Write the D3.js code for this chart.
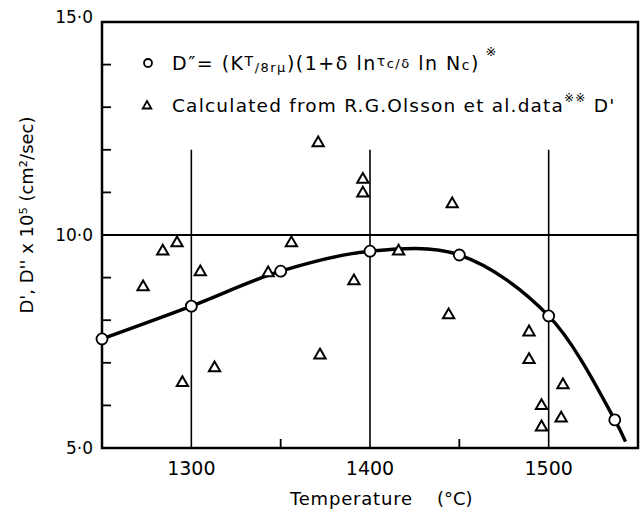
<!DOCTYPE html>
<html>
<head>
<meta charset="utf-8">
<script src="https://cdn.jsdelivr.net/npm/d3@7"></script>
<style>
  body { margin: 0; background: #fff; }
  text { font-family: "DejaVu Sans", sans-serif; fill: #000; }
</style>
</head>
<body>
<script>
var width = 643, height = 516;

// x ticks (temperature, C) and y ticks (D x 10^5)
const tempTicks = [1300, 1400, 1500];
const tempMinor = [1350, 1450];
const dTicks = [5, 10, 15];
const dTickLabels = ["5·0", "10·0", "15·0"];
const dMinor = [6, 7, 8, 9, 11, 12, 13, 14];

// D'' calculated (circles)
const circT = [1250, 1300, 1350, 1400, 1450, 1500, 1537];
const circD = [7.56, 8.33, 9.15, 9.62, 9.53, 8.10, 5.66];
// smooth curve through them, running on to the lower end
const curveT = [1250, 1300, 1350, 1400, 1450, 1500, 1537, 1543];
const curveD = [7.56, 8.33, 9.15, 9.62, 9.53, 8.10, 5.66, 5.15];

// D' from Olsson et al. (triangles)
const triT = [1273, 1284, 1292, 1295, 1305, 1313, 1343, 1356, 1371, 1372, 1391, 1396, 1396, 1416, 1444, 1446, 1489, 1489, 1496, 1496, 1507, 1508];
const triD = [8.78, 9.62, 9.81, 6.53, 9.13, 6.88, 9.11, 9.81, 12.16, 7.18, 8.92, 11.3, 10.98, 9.62, 8.12, 10.73, 7.72, 7.07, 5.99, 5.49, 5.70, 6.48];

let svg = d3.select('body').append('svg')
    .attr('width', width).attr('height', height);

const x = d3.scaleLinear().domain([1250, 1550]).range([102, 638]);
const y = d3.scaleLinear().domain([5, 15]).range([448, 22]);

// grid: horizontal line at 10, vertical lines up to 12
svg.append('line')
    .attr('x1', x(1250)).attr('x2', x(1550))
    .attr('y1', y(10)).attr('y2', y(10))
    .attr('stroke', '#000').attr('stroke-width', 1.8);

svg.selectAll('.vgrid')
    .data(tempTicks)
    .enter()
    .append('line')
    .attr('x1', d => x(d)).attr('x2', d => x(d))
    .attr('y1', y(5)).attr('y2', y(12))
    .attr('stroke', '#000').attr('stroke-width', 1.6);

// minor ticks, pointing inwards
svg.selectAll('.ytick')
    .data(dMinor)
    .enter()
    .append('line')
    .attr('x1', x(1250)).attr('x2', x(1250) + 9)
    .attr('y1', d => y(d)).attr('y2', d => y(d))
    .attr('stroke', '#000').attr('stroke-width', 1.8);

svg.selectAll('.xtick')
    .data(tempMinor)
    .enter()
    .append('line')
    .attr('x1', d => x(d)).attr('x2', d => x(d))
    .attr('y1', y(5)).attr('y2', y(5) - 9)
    .attr('stroke', '#000').attr('stroke-width', 1.8);

// frame
svg.append('rect')
    .attr('x', x(1250)).attr('y', y(15))
    .attr('width', x(1550) - x(1250)).attr('height', y(5) - y(15))
    .attr('fill', 'none').attr('stroke', '#000').attr('stroke-width', 2.5);

// tick labels
svg.selectAll('.xlab')
    .data(tempTicks)
    .enter()
    .append('text')
    .attr('x', d => x(d)).attr('y', 475)
    .attr('text-anchor', 'middle')
    .style('font-size', '19px')
    .text(d => d);

svg.selectAll('.ylab')
    .data(dTicks)
    .enter()
    .append('text')
    .attr('x', 93)
    .attr('y', (d, i) => y(d) + (d === 15 ? 1 : 6))
    .attr('text-anchor', 'end')
    .style('font-size', '17px')
    .text((d, i) => dTickLabels[i]);

// axis titles
svg.append('text').attr('x', 290).attr('y', 505)
    .style('font-size', '18px').style('letter-spacing', '0.8px').text('Temperature');
svg.append('text').attr('x', 437).attr('y', 505)
    .style('font-size', '18px').text('(°C)');

svg.append('text')
    .attr('transform', 'translate(33,215) rotate(-90)')
    .attr('text-anchor', 'middle')
    .style('font-size', '18px')
    .text("D', D'' x 10⁵ (cm²/sec)");

// curve
const pts = curveT.map((t, i) => [t, curveD[i]]);
svg.append('path')
    .datum(pts)
    .attr('d', d3.line().x(d => x(d[0])).y(d => y(d[1])).curve(d3.curveCatmullRom.alpha(0.5)))
    .attr('fill', 'none').attr('stroke', '#000').attr('stroke-width', 3.4);

// triangles
const tri = d3.symbol().type(d3.symbolTriangle).size(55);
svg.selectAll('.tri')
    .data(triT)
    .enter()
    .append('path')
    .attr('d', tri)
    .attr('transform', (d, i) => `translate(${x(d)},${y(triD[i])})`)
    .attr('fill', '#fff').attr('stroke', '#000').attr('stroke-width', 2);

// circles
svg.selectAll('.circ')
    .data(circT)
    .enter()
    .append('circle')
    .attr('cx', d => x(d))
    .attr('cy', (d, i) => y(circD[i]))
    .attr('r', 5.5)
    .attr('fill', '#fff').attr('stroke', '#000').attr('stroke-width', 1.8);

// legend
svg.append('circle').attr('cx', 148).attr('cy', 63).attr('r', 4)
    .attr('fill', '#fff').attr('stroke', '#000').attr('stroke-width', 1.8);
let l1 = svg.append('text').attr('x', 172).attr('y', 70)
    .style('font-size', '19px').style('letter-spacing', '1.5px');
l1.append('tspan').text('D″= (K');
l1.append('tspan').text('T').style('font-size', '14px').attr('dy', -4);
l1.append('tspan').text('/8rμ').style('font-size', '13px').attr('dy', 6);
l1.append('tspan').text(')(1+δ ln').attr('dy', -2);
l1.append('tspan').text('τ').style('font-size', '14px').attr('dy', -4);
l1.append('tspan').text('c/δ').style('font-size', '13px').attr('dy', 2);
l1.append('tspan').text(' ln N').attr('dy', 2);
l1.append('tspan').text('c').style('font-size', '14px');
l1.append('tspan').text(')');
l1.append('tspan').text('  ※').style('font-size', '13px').attr('dy', -14);

svg.append('path')
    .attr('d', d3.symbol().type(d3.symbolTriangle).size(32))
    .attr('transform', 'translate(147,106)')
    .attr('fill', '#fff').attr('stroke', '#000').attr('stroke-width', 1.8);
let l2 = svg.append('text').attr('x', 172).attr('y', 112)
    .style('font-size', '18.5px').style('letter-spacing', '1.2px');
l2.append('tspan').text('Calculated from R.G.Olsson et al.data');
l2.append('tspan').text('※※').style('font-size', '12px').attr('dy', -10);
l2.append('tspan').text(" D'").attr('dy', 10);
</script>
</body>
</html>
